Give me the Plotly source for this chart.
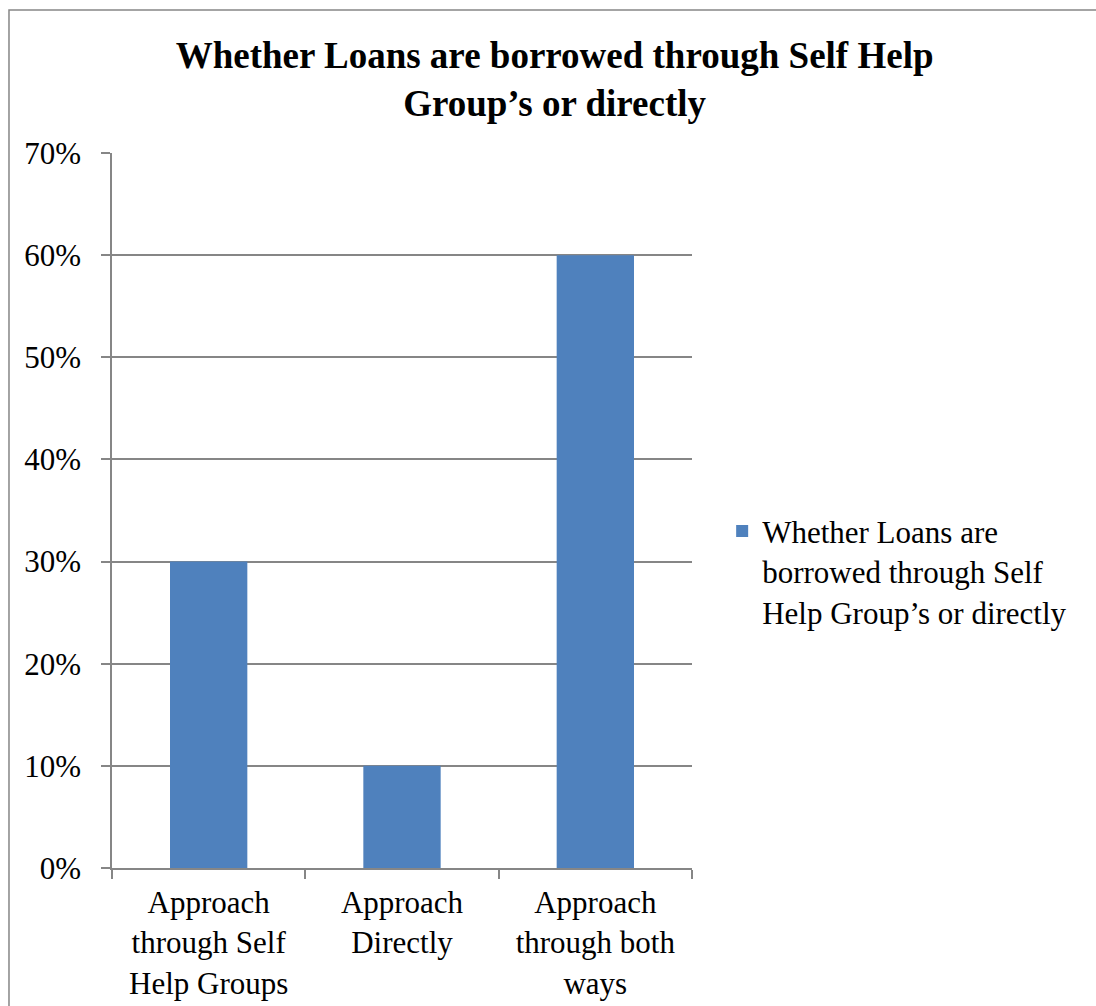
import plotly.graph_objects as go

# Survey result: how respondents borrow loans
categories = [
    "Approach<br>through Self<br>Help Groups",
    "Approach<br>Directly",
    "Approach<br>through both<br>ways",
]
shares = [0.30, 0.10, 0.60]
series_name = "Whether Loans are<br>borrowed through Self<br>Help Group’s or directly"
chart_title = "Whether Loans are borrowed through Self Help<br>Group’s or directly"

FONT = "Liberation Serif"
GRID = "#868686"
BAR = "#4F81BD"

fig = go.Figure()
fig.add_trace(go.Bar(
    x=categories,
    y=shares,
    name=series_name,
    marker=dict(color=BAR, line=dict(width=0)),
    showlegend=True,
))

fig.update_layout(
    width=1096,
    height=1006,
    margin=dict(l=112, r=404, t=153, b=138, autoexpand=False),
    paper_bgcolor="white",
    plot_bgcolor="white",
    bargap=0.6,
    font=dict(family=FONT, size=31, color="black"),
    title=dict(
        text=chart_title,
        font=dict(family=FONT, size=37, color="black", weight="bold"),
        x=0.506, xref="container", xanchor="center",
        y=1 - 68 / 1006, yref="container", yanchor="top",
    ),
    legend=dict(
        x=1.052, xanchor="left",
        y=0.415, yanchor="middle",
        valign="top",
        font=dict(family=FONT, size=31, color="black"),
        bgcolor="rgba(0,0,0,0)",
        borderwidth=0,
    ),
    xaxis=dict(
        type="category",
        automargin=False,
        showline=True, linecolor=GRID, linewidth=1.5,
        ticks="outside", ticklen=9, tickcolor=GRID, tickwidth=1.5,
        tickson="boundaries",
        ticklabelstandoff=6,
        showgrid=False,
        tickfont=dict(family=FONT, size=31, color="black"),
    ),
    yaxis=dict(
        automargin=False,
        range=[0, 0.7],
        dtick=0.1,
        tickformat=".0%",
        showline=True, linecolor=GRID, linewidth=1.5,
        ticks="outside", ticklen=9, tickcolor=GRID, tickwidth=1.5,
        showgrid=True, gridcolor=GRID, gridwidth=1.5,
        zeroline=False,
        ticklabelstandoff=14,
        tickfont=dict(family=FONT, size=31, color="black"),
    ),
)

# Chart frame
fig.add_shape(
    type="rect", xref="paper", yref="paper",
    x0=-0.1776, x1=1.72, y0=-0.21, y1=1.2,
    line=dict(color=GRID, width=1.5),
    fillcolor="rgba(0,0,0,0)",
    layer="below",
)

fig.write_html("out.html")
